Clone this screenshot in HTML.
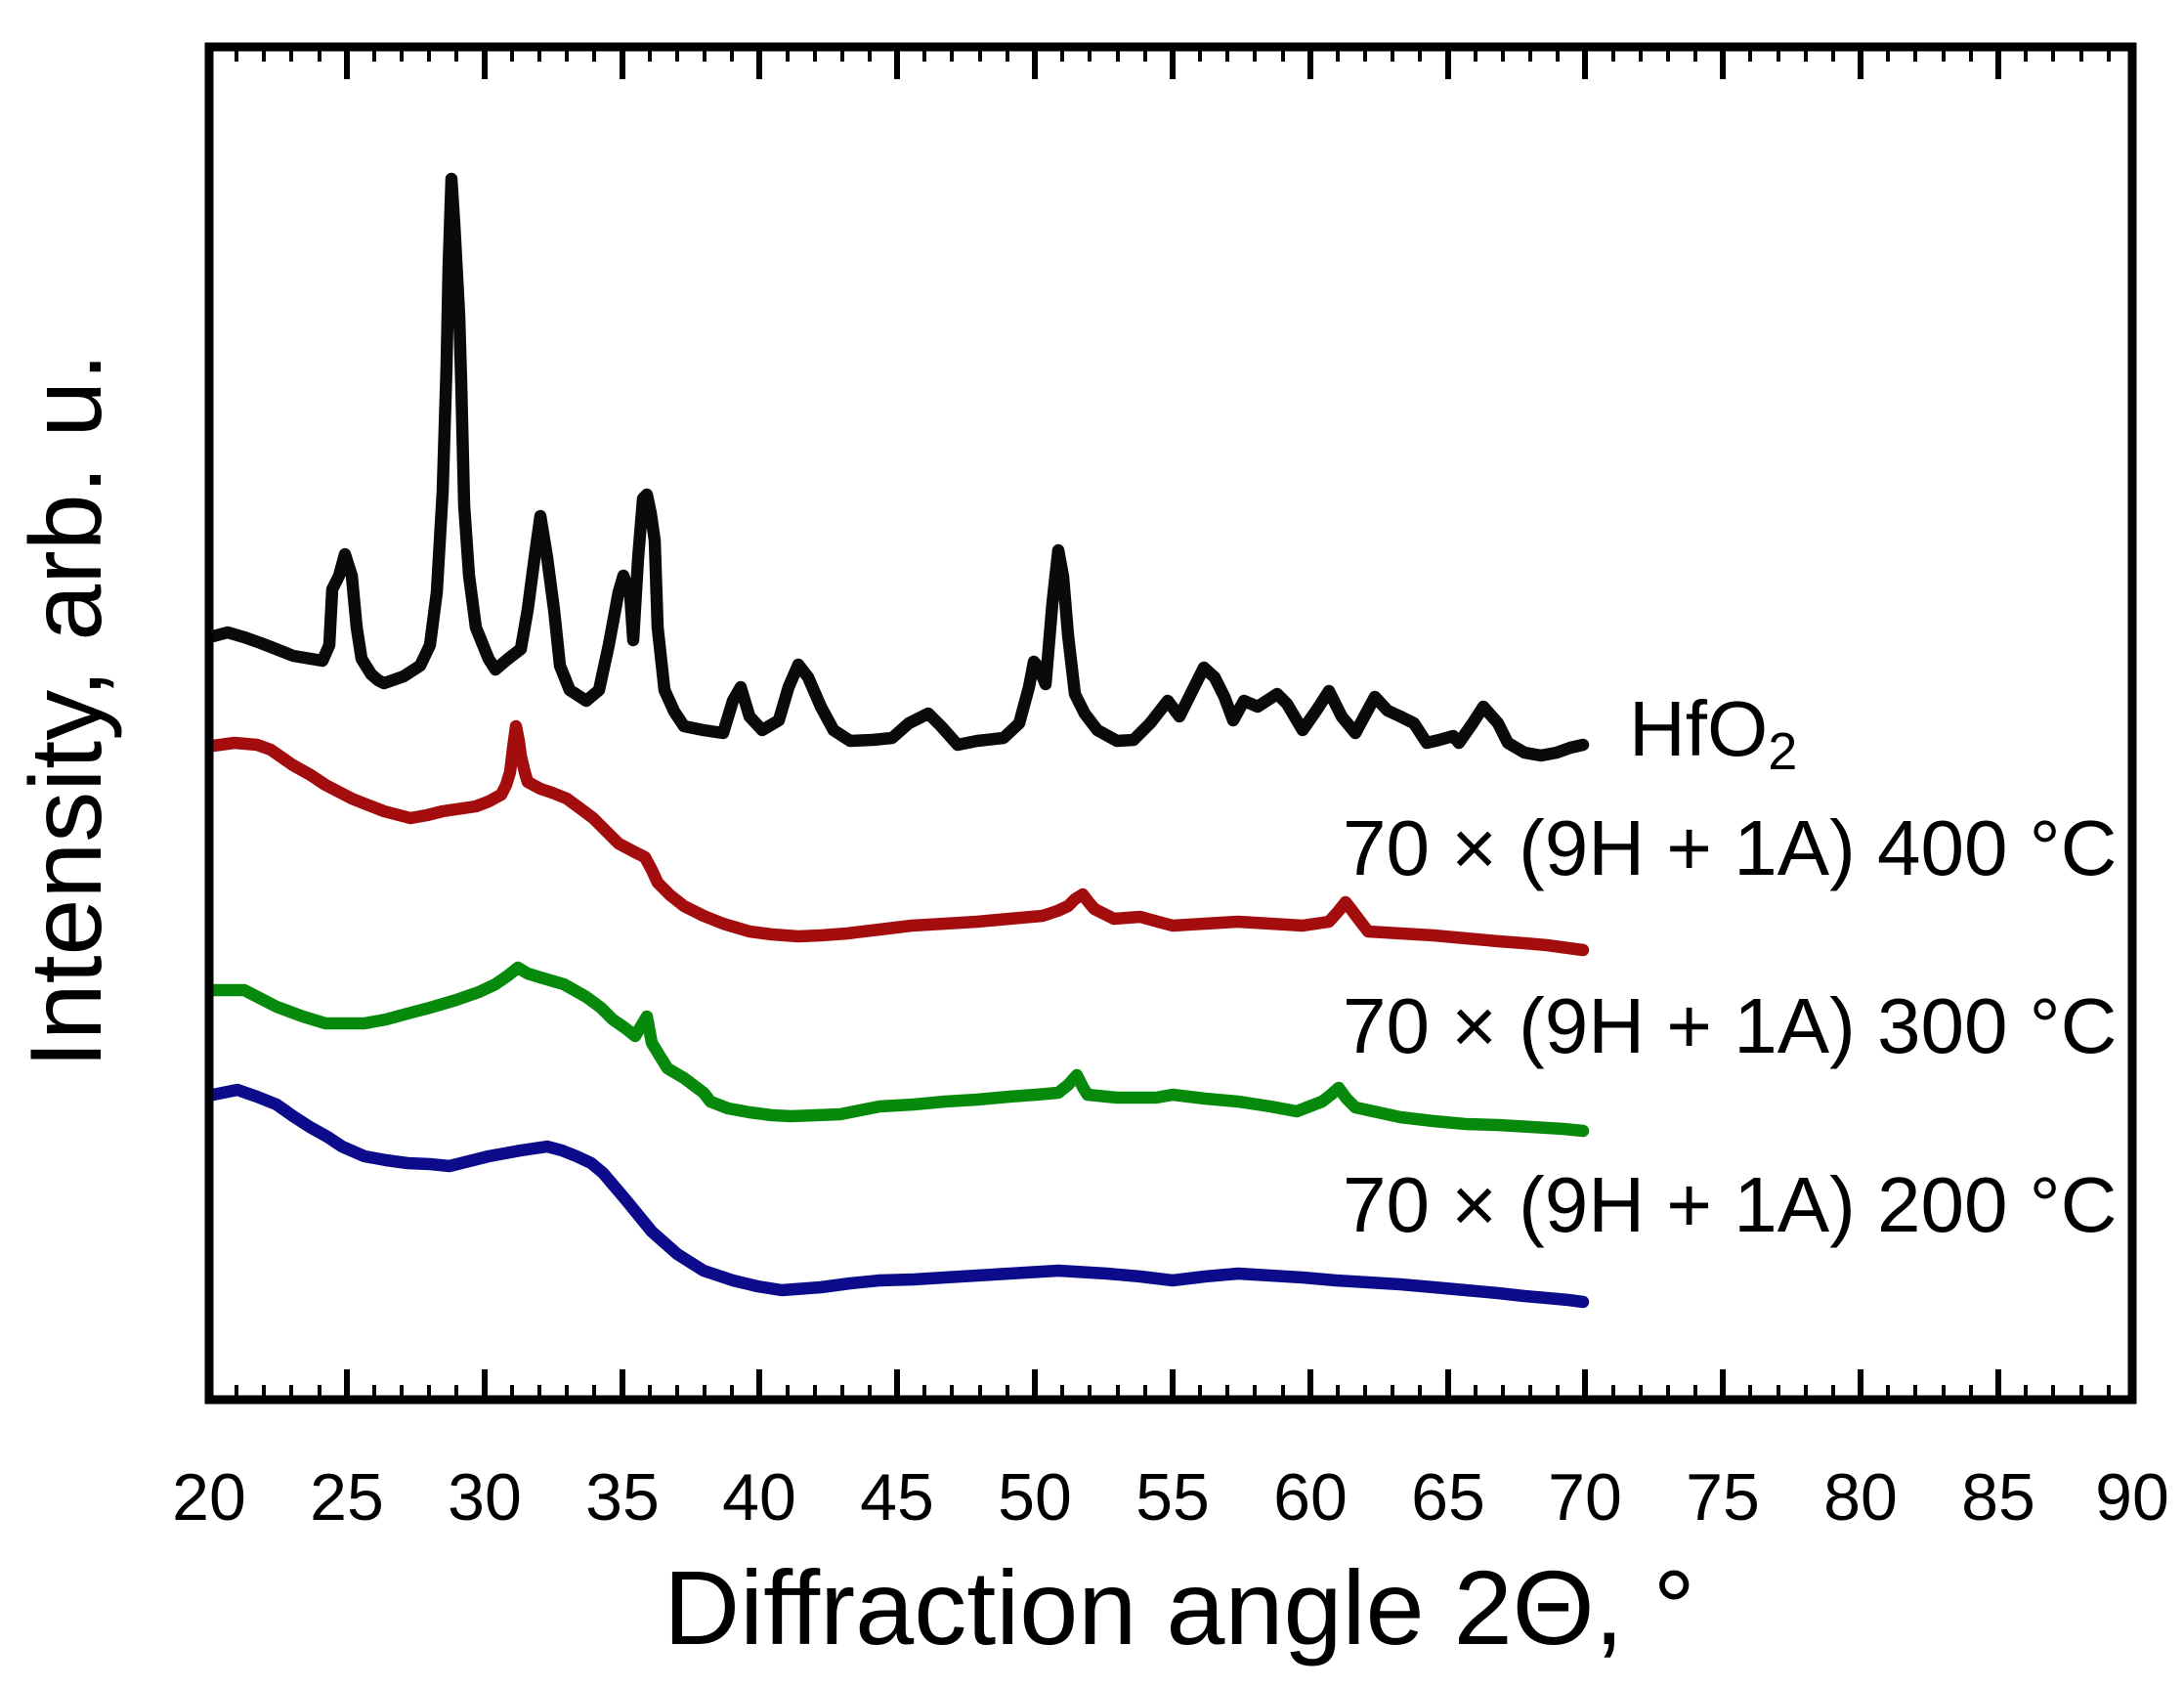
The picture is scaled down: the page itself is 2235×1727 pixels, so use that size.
<!DOCTYPE html>
<html>
<head>
<meta charset="utf-8">
<style>
  html, body { margin: 0; padding: 0; background: #ffffff; }
  svg { display: block; }
  text { font-family: "Liberation Sans", Arial, sans-serif; fill: #000; }
</style>
</head>
<body>
<svg width="2235" height="1727" viewBox="0 0 2235 1727" xmlns="http://www.w3.org/2000/svg">
  <rect x="0" y="0" width="2235" height="1727" fill="#ffffff"/>

  <!-- Data series -->
  <g fill="none" stroke-width="12.5" stroke-linejoin="round" stroke-linecap="round">
    <polyline stroke="#0b0b8c" points="218,1120 243,1115 263,1122 283,1130 300,1142 317,1153 335,1163 350,1173 373,1183 395,1187 417,1190 440,1191 460,1193 480,1188 500,1183 533,1177 560,1173 575,1177 590,1183 605,1190 617,1200 640,1227 667,1260 693,1283 720,1300 750,1310 775,1316 800,1320 840,1317 870,1313 900,1310 935,1309 967,1307 1000,1305 1033,1303 1083,1300 1133,1303 1167,1306 1200,1310 1233,1306 1267,1303 1300,1305 1333,1307 1367,1310 1400,1312 1433,1314 1467,1317 1500,1320 1533,1323 1560,1326 1583,1328 1605,1330 1620,1332"/>
    <polyline stroke="#078a0b" points="218,1013 250,1013 283,1030 310,1040 333,1047 373,1047 395,1043 417,1037 440,1031 467,1023 490,1015 507,1007 520,998 530,990 540,996 553,1000 577,1007 600,1020 615,1031 627,1043 640,1052 650,1060 656,1050 662,1040 667,1067 675,1080 683,1093 700,1103 712,1112 720,1118 727,1127 745,1134 767,1138 790,1141 810,1142 835,1141 860,1140 900,1132 935,1130 967,1127 1000,1125 1033,1122 1060,1120 1083,1118 1093,1110 1102,1100 1108,1112 1113,1120 1143,1123 1183,1123 1200,1120 1233,1124 1267,1127 1300,1132 1327,1137 1340,1132 1353,1127 1362,1120 1370,1113 1378,1124 1387,1133 1410,1138 1433,1143 1467,1147 1500,1150 1533,1151 1567,1153 1600,1155 1620,1157"/>
    <polyline stroke="#a30d0d" points="218,763 240,760 263,762 277,767 300,783 318,793 333,803 360,817 375,823 393,830 420,837 437,834 453,830 487,825 500,820 513,813 518,803 522,790 525,765 528,743 531,758 533,773 537,790 540,800 553,807 565,811 580,817 607,837 620,850 633,863 650,872 660,877 667,890 673,903 686,916 700,927 720,937 740,945 767,953 790,956 817,958 840,957 867,955 900,951 933,947 967,945 1000,943 1033,940 1067,937 1082,932 1093,927 1100,920 1108,915 1114,923 1120,930 1140,940 1167,938 1185,943 1200,947 1233,945 1267,943 1300,945 1333,947 1360,943 1369,933 1377,923 1384,932 1390,940 1400,953 1433,955 1467,957 1500,960 1533,963 1560,965 1583,967 1605,970 1620,972"/>
    <polyline stroke="#0a0a0a" points="218,651 233,647 250,652 267,658 285,665 300,671 318,674 330,676 337,660 340,603 347,589 353,567 360,589 365,642 370,674 380,690 387,696 393,699 413,692 430,681 440,660 447,606 453,503 457,374 459,274 462,183 465,230 467,267 470,324 472,392 475,517 480,589 487,642 500,674 507,685 520,674 533,664 540,624 547,571 553,528 560,571 567,624 573,681 583,706 600,717 613,706 623,660 633,606 638,589 645,610 648,655 653,571 658,510 662,506 666,525 670,553 673,642 680,706 690,728 700,743 720,747 740,750 750,717 758,703 767,733 780,747 797,737 807,703 817,680 827,693 840,723 853,747 870,758 893,757 913,755 930,740 950,730 963,743 980,762 1000,758 1027,755 1043,740 1053,703 1058,677 1063,683 1070,700 1077,617 1083,563 1088,590 1093,650 1100,710 1110,730 1123,747 1143,758 1160,757 1177,740 1195,717 1207,733 1220,707 1232,683 1243,693 1253,713 1262,737 1273,717 1287,723 1307,710 1317,720 1333,747 1347,727 1360,707 1373,733 1387,750 1407,713 1420,727 1433,733 1447,740 1460,760 1473,757 1487,753 1493,760 1507,740 1518,723 1533,740 1543,760 1560,770 1577,773 1593,770 1607,765 1620,762"/>
  </g>

  <!-- Ticks -->
  <g stroke="#000" stroke-width="4">
    <path d="M242,48V63 M270,48V63 M298,48V63 M327,48V63 M383,48V63 M411,48V63 M439,48V63 M467,48V63 M524,48V63 M552,48V63 M580,48V63 M608,48V63 M665,48V63 M693,48V63 M721,48V63 M749,48V63 M806,48V63 M834,48V63 M862,48V63 M890,48V63 M946,48V63 M974,48V63 M1003,48V63 M1031,48V63 M1087,48V63 M1115,48V63 M1144,48V63 M1172,48V63 M1228,48V63 M1256,48V63 M1284,48V63 M1313,48V63 M1369,48V63 M1397,48V63 M1425,48V63 M1453,48V63 M1510,48V63 M1538,48V63 M1566,48V63 M1594,48V63 M1651,48V63 M1679,48V63 M1707,48V63 M1735,48V63 M1791,48V63 M1820,48V63 M1848,48V63 M1876,48V63 M1932,48V63 M1960,48V63 M1989,48V63 M2017,48V63 M2073,48V63 M2101,48V63 M2130,48V63 M2158,48V63"/>
    <path d="M242,1432V1417 M270,1432V1417 M298,1432V1417 M327,1432V1417 M383,1432V1417 M411,1432V1417 M439,1432V1417 M467,1432V1417 M524,1432V1417 M552,1432V1417 M580,1432V1417 M608,1432V1417 M665,1432V1417 M693,1432V1417 M721,1432V1417 M749,1432V1417 M806,1432V1417 M834,1432V1417 M862,1432V1417 M890,1432V1417 M946,1432V1417 M974,1432V1417 M1003,1432V1417 M1031,1432V1417 M1087,1432V1417 M1115,1432V1417 M1144,1432V1417 M1172,1432V1417 M1228,1432V1417 M1256,1432V1417 M1284,1432V1417 M1313,1432V1417 M1369,1432V1417 M1397,1432V1417 M1425,1432V1417 M1453,1432V1417 M1510,1432V1417 M1538,1432V1417 M1566,1432V1417 M1594,1432V1417 M1651,1432V1417 M1679,1432V1417 M1707,1432V1417 M1735,1432V1417 M1791,1432V1417 M1820,1432V1417 M1848,1432V1417 M1876,1432V1417 M1932,1432V1417 M1960,1432V1417 M1989,1432V1417 M2017,1432V1417 M2073,1432V1417 M2101,1432V1417 M2130,1432V1417 M2158,1432V1417"/>
  </g>
  <g stroke="#000" stroke-width="6">
    <path d="M355,48V81 M496,48V81 M637,48V81 M777,48V81 M918,48V81 M1059,48V81 M1200,48V81 M1341,48V81 M1482,48V81 M1622,48V81 M1763,48V81 M1904,48V81 M2045,48V81"/>
    <path d="M355,1432V1401 M496,1432V1401 M637,1432V1401 M777,1432V1401 M918,1432V1401 M1059,1432V1401 M1200,1432V1401 M1341,1432V1401 M1482,1432V1401 M1622,1432V1401 M1763,1432V1401 M1904,1432V1401 M2045,1432V1401"/>
  </g>

  <!-- Frame -->
  <rect x="214" y="48" width="1968" height="1384" fill="none" stroke="#000" stroke-width="9"/>

  <!-- Tick labels -->
  <g font-size="68" text-anchor="middle">
    <text x="214" y="1555">20</text>
    <text x="355" y="1555">25</text>
    <text x="496" y="1555">30</text>
    <text x="637" y="1555">35</text>
    <text x="777" y="1555">40</text>
    <text x="918" y="1555">45</text>
    <text x="1059" y="1555">50</text>
    <text x="1200" y="1555">55</text>
    <text x="1341" y="1555">60</text>
    <text x="1482" y="1555">65</text>
    <text x="1622" y="1555">70</text>
    <text x="1763" y="1555">75</text>
    <text x="1904" y="1555">80</text>
    <text x="2045" y="1555">85</text>
    <text x="2182" y="1555">90</text>
  </g>

  <!-- Axis titles -->
  <text x="1207" y="1682" font-size="108" text-anchor="middle">Diffraction angle 2Θ, °</text>
  <text transform="translate(103,727) rotate(-90)" font-size="104" text-anchor="middle">Intensity, arb. u.</text>

  <!-- Series labels -->
  <text x="1667" y="773" font-size="80">HfO<tspan font-size="54" dy="14">2</tspan></text>
  <text x="1374" y="895" font-size="80">70 × (9H + 1A) 400 °C</text>
  <text x="1374" y="1077" font-size="80">70 × (9H + 1A) 300 °C</text>
  <text x="1374" y="1260" font-size="80">70 × (9H + 1A) 200 °C</text>
</svg>
</body>
</html>
